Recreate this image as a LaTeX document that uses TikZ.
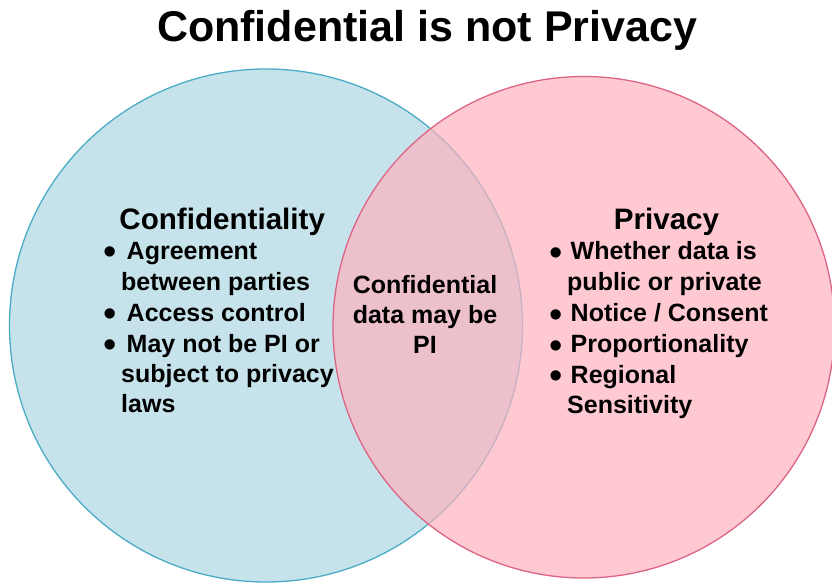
\documentclass[tikz,border=0pt]{standalone}
\usepackage{fontspec}
\setmainfont{Liberation Sans}
\definecolor{bluefill}{RGB}{198,227,236}
\definecolor{bluedraw}{RGB}{75,172,198}
\definecolor{pinkfill}{RGB}{255,178,191}
\definecolor{pinkdraw}{RGB}{220,100,135}
\begin{document}
\begin{tikzpicture}[x=1pt,y=-1pt,
  titletext/.style={font=\bfseries\fontsize{43}{50}\selectfont, inner sep=0, anchor=base},
  headtext/.style={font=\bfseries\fontsize{29.6}{35}\selectfont, inner sep=0, anchor=base},
  bodytext/.style={font=\bfseries\fontsize{25}{30}\selectfont, inner sep=0, anchor=base west},
  midtext/.style={font=\bfseries\fontsize{25}{30}\selectfont, inner sep=0, anchor=base},
  bulletmark/.style={font=\fontsize{38}{40}\selectfont, inner sep=0, anchor=base west},
  bluecircle/.style={circle, inner sep=0, minimum size=513pt, fill=bluefill, draw=bluedraw, line width=1.3pt},
  pinkcircle/.style={circle, inner sep=0, minimum size=501.5pt, fill=pinkfill, fill opacity=0.69, draw=pinkdraw, draw opacity=1, line width=1.3pt}]
\useasboundingbox[fill=white] (0,0) rectangle (832,583);

\node[bluecircle] (cl) at (266,325.5) {};
\node[pinkcircle] (cr) at (583.75,327.25) {};

\node[titletext] (title) at (427,42) {Confidential is not Privacy};

% left block
\node[headtext] (lh) at (222.2,229.3) {Confidentiality};
\node[bulletmark] (lb1) at (103.2,264.5) {\textbullet};
\node[bodytext] (l1) at (126.5,259) {Agreement};
\node[bodytext] (l2) at (121,290) {between parties};
\node[bulletmark] (lb2) at (103.2,326.5) {\textbullet};
\node[bodytext] (l3) at (126.5,321) {Access control};
\node[bulletmark] (lb3) at (103.2,357.5) {\textbullet};
\node[bodytext] (l4) at (126.5,352) {May not be PI or};
\node[bodytext] (l5) at (121,382.5) {subject to privacy};
\node[bodytext] (l6) at (121,412.5) {laws};

% middle block
\node[midtext] (m1) at (425,293) {Confidential};
\node[midtext] (m2) at (425,323.3) {data may be};
\node[midtext] (m3) at (425,353.3) {PI};

% right block
\node[headtext] (rh) at (666.5,229.3) {Privacy};
\node[bulletmark] (rb1) at (548.8,265) {\textbullet};
\node[bodytext] (r1) at (570.5,259.5) {Whether data is};
\node[bodytext] (r2) at (567,290) {public or private};
\node[bulletmark] (rb2) at (548.8,327) {\textbullet};
\node[bodytext] (r3) at (570.5,321.5) {Notice / Consent};
\node[bulletmark] (rb3) at (548.8,358) {\textbullet};
\node[bodytext] (r4) at (570.5,352.5) {Proportionality};
\node[bulletmark] (rb4) at (548.8,388.5) {\textbullet};
\node[bodytext] (r5) at (570.5,383) {Regional};
\node[bodytext] (r6) at (567,413) {Sensitivity};
\end{tikzpicture}
\end{document}
